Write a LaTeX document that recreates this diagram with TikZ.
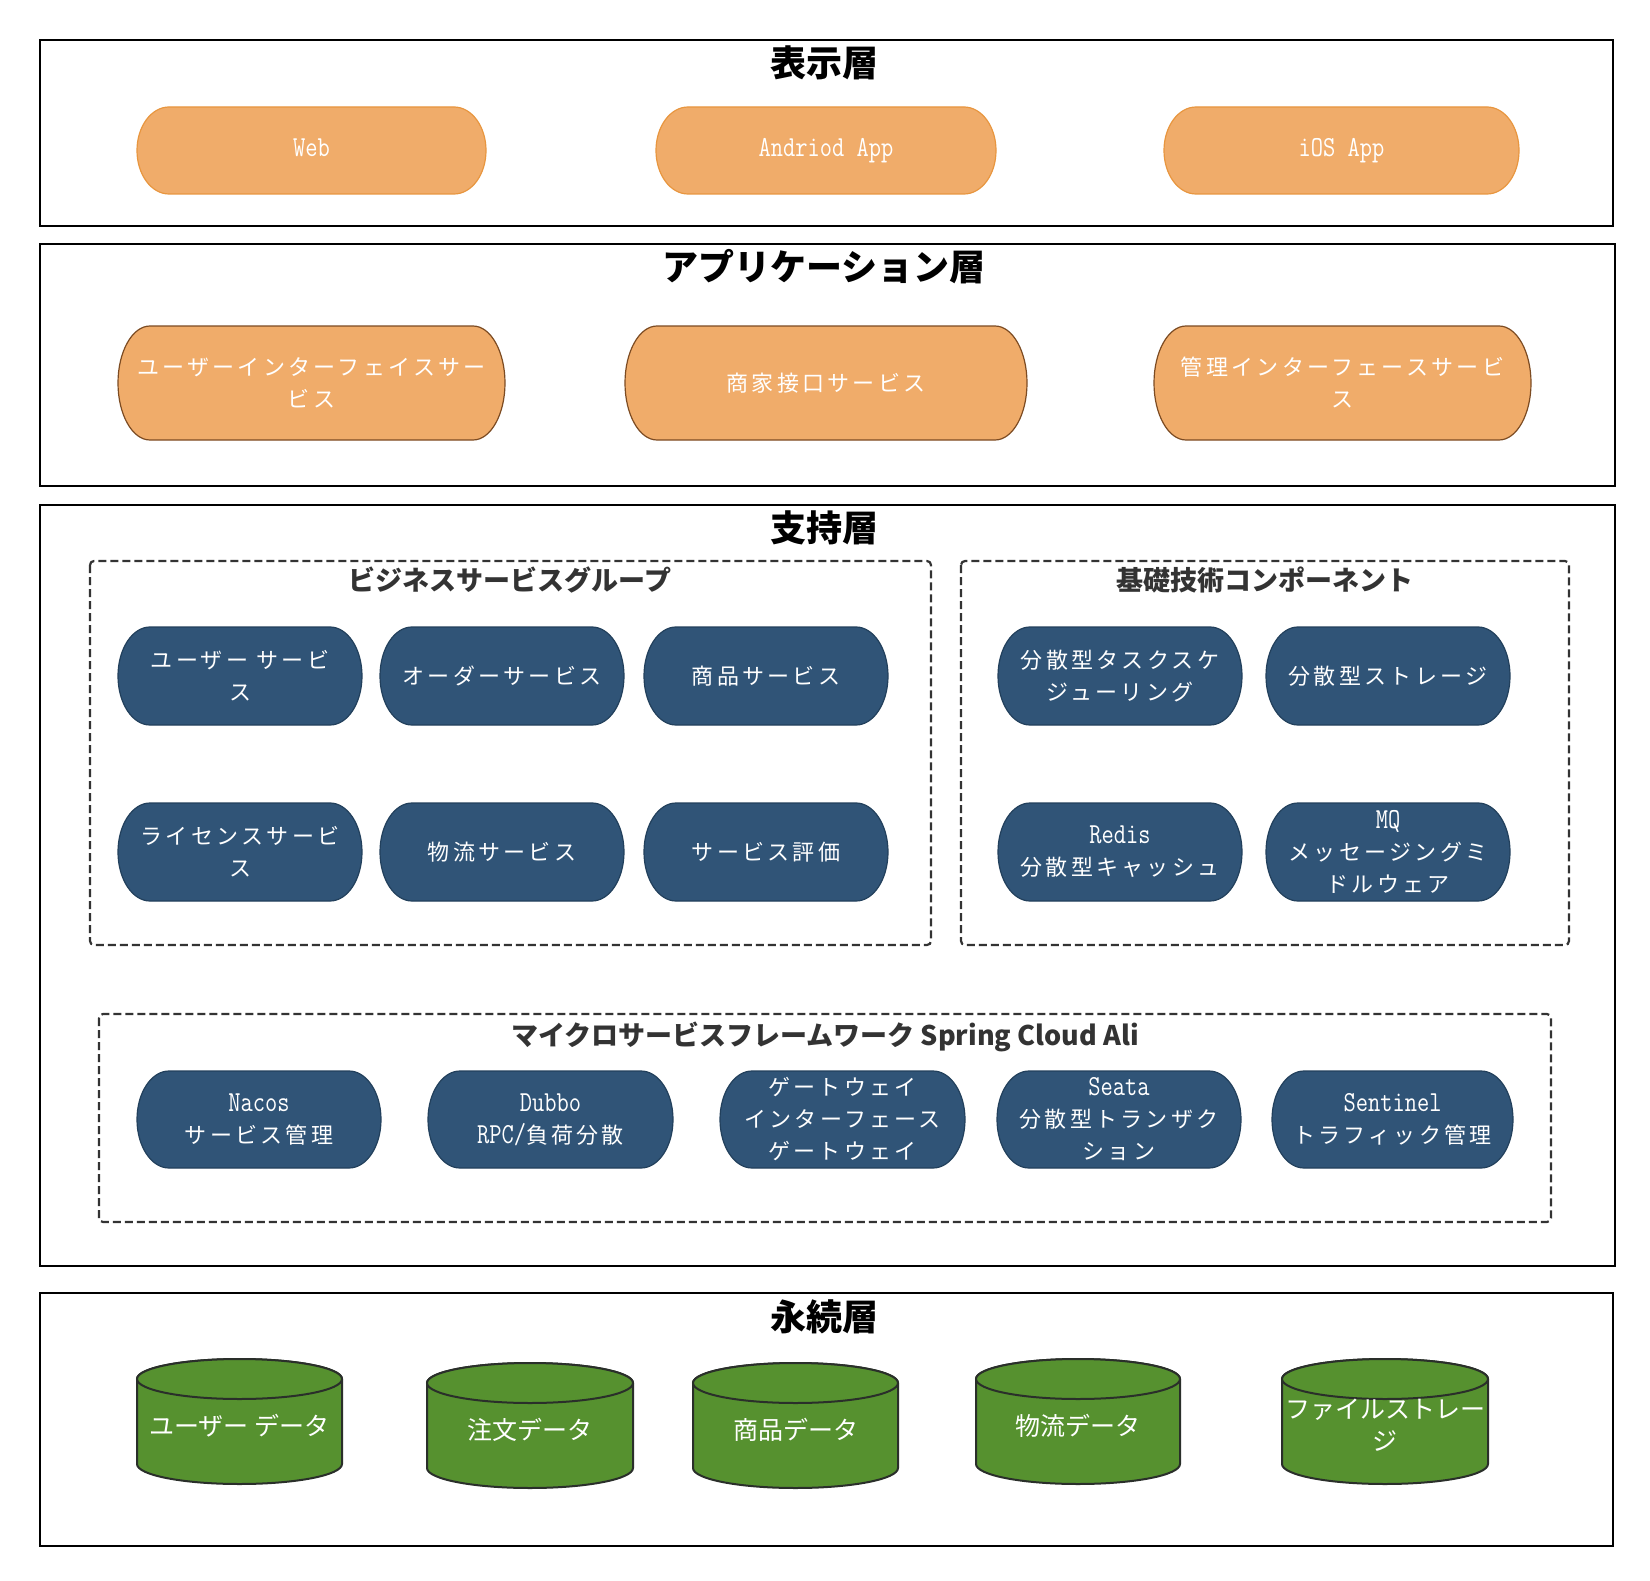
\documentclass[tikz,border=0pt]{standalone}
\usepackage{fontspec}
\setmainfont{Noto Sans CJK JP}
\newfontfamily\jpspaced[LetterSpace=15]{Noto Sans CJK JP}
\newfontfamily\latmonofont[FakeStretch=0.82]{Latin Modern Mono}
\newcommand{\Lat}[1]{{\latmonofont\fontsize{29}{32}\selectfont #1}}
\definecolor{orfill}{HTML}{F0AC6A}
\definecolor{ordraw}{HTML}{E8963F}
\definecolor{brdraw}{HTML}{7C4B22}
\definecolor{bluefill}{HTML}{305477}
\definecolor{bluedraw}{HTML}{22405C}
\definecolor{greenfill}{HTML}{56912F}
\definecolor{greendraw}{HTML}{2A2F2A}
\definecolor{grouptxt}{HTML}{333333}
\tikzset{
  layerbox/.style={draw=black, line width=1.3pt},
  groupbox/.style={draw=grouptxt, line width=2.2pt, dash pattern=on 8pt off 4pt, rounded corners=4pt},
  layertitle/.style={font=\bfseries\fontsize{36}{40}\selectfont, text=black, inner sep=0pt},
  grouptitle/.style={font=\bfseries\fontsize{27}{30}\selectfont, text=grouptxt, inner sep=0pt},
  pilltext/.style={text=white, align=center, inner sep=0pt, font=\fontsize{22}{32}\selectfont\jpspaced},
  orpillA/.style={fill=orfill, draw=ordraw, line width=1.2pt},
  orpillB/.style={fill=orfill, draw=brdraw, line width=1.2pt},
  bluepill/.style={fill=bluefill, draw=bluedraw, line width=1.2pt},
  cyl/.style={fill=greenfill, draw=greendraw, line width=2pt},
  cyltext/.style={text=white, align=center, inner sep=0pt, font=\fontsize{25}{32}\selectfont},
}
\newcommand{\Pill}[7]{%
  \pgfmathsetmacro\pillry{(#5-#3)/2}%
  \draw[#6] (#2+32,#3) -- (#4-32,#3) arc[start angle=90,end angle=-90,x radius=32pt,y radius=\pillry pt] -- (#2+32,#5) arc[start angle=270,end angle=90,x radius=32pt,y radius=\pillry pt] -- cycle;
  \node[pilltext] (#1) at ({(#2+#4)/2},{(#3+#5)/2}) {#7};
}
\newcommand{\Cyl}[6]{%
  \pgfmathsetmacro\cylrx{(#4-#2)/2}%
  \draw[cyl] (#2,#3+20) -- (#2,#5-20) arc[start angle=180,end angle=360,x radius=\cylrx pt,y radius=20pt] -- (#4,#3+20) arc[start angle=0,end angle=180,x radius=\cylrx pt,y radius=20pt] -- cycle;
  \draw[cyl] ({(#2+#4)/2},{#3+20}) ellipse[x radius=\cylrx pt,y radius=20pt];
  \node[cyltext] (#1) at ({(#2+#4)/2},{(#3+#5)/2+4}) {#6};
}
\begin{document}
\begin{tikzpicture}[x=1pt,y=-1pt]
\useasboundingbox[fill=white] (0,0) rectangle (1650,1581);

% Layer boxes
\draw[layerbox] (40,40) rectangle (1613,226);
\draw[layerbox] (40,244) rectangle (1615,486);
\draw[layerbox] (40,505) rectangle (1615,1266);
\draw[layerbox] (40,1293) rectangle (1613,1546);

% Layer titles
\node[layertitle] (t1) at (824,63) {表示層};
\node[layertitle] (t2) at (824,267) {アプリケーション層};
\node[layertitle] (t3) at (824,528) {支持層};
\node[layertitle] (t4) at (824,1317) {永続層};

% Presentation layer
\Pill{web}{137}{107}{486}{194}{orpillA}{\Lat{Web\vphantom{p}}}
\Pill{android}{656}{107}{996}{194}{orpillA}{\Lat{Andriod App}}
\Pill{ios}{1164}{107}{1519}{194}{orpillA}{\Lat{iOS App}}

% Application layer
\Pill{uis}{118}{326}{505}{440}{orpillB}{ユーザーインターフェイスサー\\ビス}
\Pill{mis}{625}{326}{1027}{440}{orpillB}{商家接口サービス}
\Pill{ais}{1154}{326}{1531}{440}{orpillB}{管理インターフェースサービ\\ス}

% Groups
\draw[groupbox] (90,561) rectangle (931,945);
\node[grouptitle] (g1) at (510,580) {ビジネスサービスグループ};
\draw[groupbox] (961,561) rectangle (1569,945);
\node[grouptitle] (g2) at (1265,580) {基礎技術コンポーネント};
\draw[groupbox] (99,1014) rectangle (1551,1222);
\node[grouptitle] (g3) at (825,1037) {マイクロサービスフレームワーク Spring Cloud Ali};

% Business services
\Pill{us}{118}{627}{362}{725}{bluepill}{ユーザー サービ\\ス}
\Pill{os}{380}{627}{624}{725}{bluepill}{オーダーサービス}
\Pill{ps}{644}{627}{888}{725}{bluepill}{商品サービス}
\Pill{ls}{118}{803}{362}{901}{bluepill}{ライセンスサービ\\ス}
\Pill{lgs}{380}{803}{624}{901}{bluepill}{物流サービス}
\Pill{rs}{644}{803}{888}{901}{bluepill}{サービス評価}

% Foundation components
\Pill{dts}{998}{627}{1242}{725}{bluepill}{分散型タスクスケ\\ジューリング}
\Pill{dst}{1266}{627}{1510}{725}{bluepill}{分散型ストレージ}
\Pill{redis}{998}{803}{1242}{901}{bluepill}{\Lat{Redis}\\分散型キャッシュ}
\Pill{mq}{1266}{803}{1510}{901}{bluepill}{\Lat{MQ}\\メッセージングミ\\ドルウェア}

% Microservice framework
\Pill{nacos}{137}{1071}{381}{1168}{bluepill}{\Lat{Nacos}\\サービス管理}
\Pill{dubbo}{428}{1071}{673}{1168}{bluepill}{\Lat{Dubbo}\\\Lat{RPC/}負荷分散}
\Pill{gw}{720}{1071}{965}{1168}{bluepill}{ゲートウェイ\\インターフェース\\ゲートウェイ}
\Pill{seata}{997}{1071}{1241}{1168}{bluepill}{\Lat{Seata}\\分散型トランザク\\ション}
\Pill{sentinel}{1272}{1071}{1513}{1168}{bluepill}{\Lat{Sentinel}\\トラフィック管理}

% Persistence layer
\Cyl{ud}{137}{1359}{342}{1484}{ユーザー データ}
\Cyl{od}{427}{1363}{633}{1488}{注文データ}
\Cyl{pd}{693}{1363}{898}{1488}{商品データ}
\Cyl{ld}{976}{1359}{1180}{1484}{物流データ}
\Cyl{fs}{1282}{1359}{1488}{1484}{ファイルストレー\\ジ}
\end{tikzpicture}
\end{document}
